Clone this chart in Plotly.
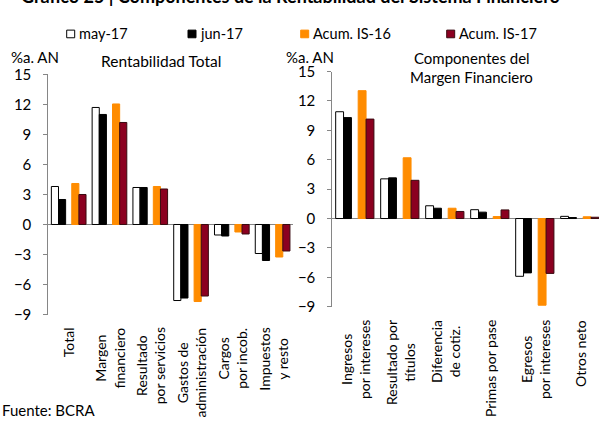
import plotly.graph_objects as go

W, H = 599, 425

# ---- data ----
cats_left = ["Total", "Margen<br>financiero", "Resultado<br>por servicios",
             "Gastos de<br>administración", "Cargos<br>por incob.", "Impuestos<br>y resto"]
may17_left = [3.8, 11.7, 3.7, -7.6, -1.05, -2.9]
jun17_left = [2.5, 11.0, 3.7, -7.35, -1.15, -3.6]
acum16_left = [4.1, 12.05, 3.8, -7.7, -0.75, -3.25]
acum17_left = [3.0, 10.2, 3.55, -7.15, -0.95, -2.65]

cats_right = ["Ingresos<br>por intereses", "Resultado por<br>títulos", "Diferencia<br>de cotiz.",
              "Primas por pase", "Egresos<br>por intereses", "Otros neto"]
may17_right = [10.9, 4.05, 1.3, 0.9, -5.9, 0.22]
jun17_right = [10.3, 4.15, 1.05, 0.65, -5.55, 0.1]
acum16_right = [13.05, 6.2, 1.05, 0.2, -8.85, 0.18]
acum17_right = [10.15, 3.9, 0.72, 0.88, -5.6, 0.13]

series_names = ["may-17", "jun-17", "Acum. IS-16", "Acum. IS-17"]
y_ticks = [-9, -6, -3, 0, 3, 6, 9, 12, 15]

# ---- styles ----
FONT = "Lato"
fills = ["#FFFFFF", "#000000", "#FF8C00", "#8B0020"]
lines = ["#000000", "#000000", "#FF8C00", "#3A0A10"]
BW = 0.35


def px_x(p):
    return p / W


def px_y(p):
    return 1 - p / H


fig = go.Figure()


def add_panel(cats, vals, xa, ya):
    n = len(cats)
    for k, (name, v) in enumerate(zip(series_names, vals)):
        pair = k // 2          # 0 -> monthly pair, 1 -> accumulated pair
        side = k % 2           # left / right bar within the pair
        xs = [2 * i + pair for i in range(n)]
        fig.add_trace(go.Bar(
            x=xs, y=v, name=name, width=BW, offset=-BW if side == 0 else 0,
            marker=dict(color=fills[k], line=dict(color=lines[k], width=1)),
            xaxis=xa, yaxis=ya, showlegend=False))


add_panel(cats_left, [may17_left, jun17_left, acum16_left, acum17_left], "x", "y")
add_panel(cats_right, [may17_right, jun17_right, acum16_right, acum17_right], "x2", "y2")

yax = dict(range=[-9, 15], tickvals=y_ticks, showline=True, linecolor="#868686",
           linewidth=1, ticks="outside", ticklen=4, tickcolor="#868686",
           zeroline=True, zerolinecolor="#868686", zerolinewidth=1, showgrid=False,
           ticklabelstandoff=9, tickfont=dict(family=FONT, size=15, color="#000"))

xax = dict(showline=False, ticks="", zeroline=False, showgrid=False, showticklabels=False)

L_BOT, L_TOP = 318, 67.3
R_BOT, R_TOP = 309.8, 64.3

fig.update_layout(
    width=W, height=H, margin=dict(l=0, r=0, t=0, b=0),
    paper_bgcolor="white", plot_bgcolor="white", barmode="overlay",
    font=dict(family=FONT, size=15, color="#000"),
    xaxis=dict(domain=[px_x(48.3), px_x(293)], range=[-0.5, 11.5], anchor="y", **xax),
    yaxis=dict(domain=[px_y(L_BOT), px_y(L_TOP)], anchor="x", **yax),
    xaxis2=dict(domain=[px_x(332.3), 1], range=[-0.5, -0.5 + (599 - 332.3) / 22.5], anchor="y2", **xax),
    yaxis2=dict(domain=[px_y(R_BOT), px_y(R_TOP)], anchor="x2", **yax),
)

ann = []


def text(x, y, s, size=15, xanchor="center"):
    ann.append(dict(x=px_x(x), y=px_y(y), xref="paper", yref="paper", text=s,
                    showarrow=False, xanchor=xanchor, yanchor="middle",
                    font=dict(family=FONT, size=size, color="#000")))


# category labels, rotated, lines centred
for cats, xr, bot in [(cats_left, "x", L_BOT), (cats_right, "x2", R_BOT)]:
    for i, c in enumerate(cats):
        ann.append(dict(x=2 * i + 0.5, xref=xr, y=px_y(bot), yref="paper", text=c,
                        showarrow=False, textangle=-90, align="center",
                        xanchor="center", yanchor="top", yshift=-11,
                        font=dict(family=FONT, size=14, color="#000")))

# title (partly cut off at top, as in the source)
ann.append(dict(x=px_x(562), y=px_y(-15), xref="paper", yref="paper",
                text="<b>Gráfico 25 | Componentes de la Rentabilidad del Sistema Financiero</b>",
                showarrow=False, xanchor="right", yanchor="middle",
                font=dict(family=FONT, size=18, color="#000")))

# legend
leg_x = [66.7, 188, 300.7, 446.7]
shapes = []
for k, name in enumerate(series_names):
    x0 = leg_x[k]
    shapes.append(dict(type="rect", xref="paper", yref="paper",
                       x0=px_x(x0), x1=px_x(x0 + 8), y0=px_y(29), y1=px_y(21),
                       fillcolor=fills[k], line=dict(color=lines[k], width=1)))
    text(x0 + 10, 25, name, size=14.5, xanchor="left")

text(35, 49, "%a. AN")
text(161, 53, "Rentabilidad Total", size=15.5)
text(310, 49, "%a. AN")
text(471.5, 50, "Componentes del")
text(471.5, 70, "Margen Financiero")
text(0, 418, "Fuente: BCRA", xanchor="left")

fig.update_layout(annotations=ann, shapes=shapes)
fig.write_html("out.html")
